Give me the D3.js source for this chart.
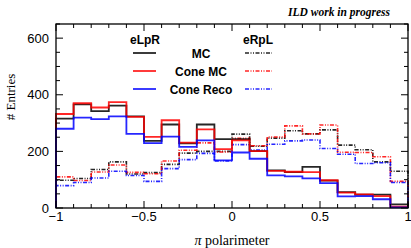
<!DOCTYPE html>
<html><head><meta charset="utf-8">
<script src="https://cdn.jsdelivr.net/npm/d3@7"></script>
<style>body{margin:0;background:#fff}svg{display:block}</style>
</head><body><svg id="c" width="411" height="248"></svg>
<script>
const binEdges = [-1,-0.9,-0.8,-0.7,-0.6,-0.5,-0.4,-0.3,-0.2,-0.1,0,0.1,0.2,0.3,0.4,0.5,0.6,0.7,0.8,0.9,1];
const eLpR_MC      = [316,366,342,362,324,237,295,228,295,243,243,201,133,127,145,97,56,47,47,13];
const eLpR_ConeMC  = [332,370,355,374,322,251,310,231,278,208,239,201,131,128,127,98,54,48,42,5];
const eLpR_ConeReco= [280,319,314,324,262,229,252,216,239,168,196,174,115,112,105,88,41,42,31,2];
const eRpL_MC      = [98,104,136,163,120,125,154,194,200,200,261,218,247,273,262,276,222,206,163,130];
const eRpL_ConeMC  = [110,97,127,152,126,121,166,204,230,198,246,220,251,290,262,293,197,196,181,94];
const eRpL_ConeReco= [79,90,106,130,115,94,139,171,193,166,224,205,225,237,240,210,190,157,160,90];
const yTicks = [0,200,400,600];
const xTicks = [-1,-0.5,0,0.5,1];
const legendLabels = ["MC","Cone MC","Cone Reco"];
const colors = ["#000000","#ff0000","#0000ff"];

const svg = d3.select("#c");
const L=56, R=408, T=24, B=208;
const x = d3.scaleLinear().domain([-1,1]).range([L,R]);
const y = d3.scaleLinear().domain([0,650]).range([B,T]);

function stepPath(vals){
  const pts=[[binEdges[0],0]];
  vals.forEach((v,i)=>{pts.push([binEdges[i],v]);pts.push([binEdges[i+1],v]);});
  pts.push([binEdges[binEdges.length-1],0]);
  return d3.line().x(d=>x(d[0])).y(d=>y(d[1]))(pts);
}
const dash = "4,1.5,1,1.5,1,1.5";
const seriesDashed = [eRpL_MC,eRpL_ConeMC,eRpL_ConeReco];
const seriesSolid = [eLpR_MC,eLpR_ConeMC,eLpR_ConeReco];
seriesDashed.forEach((s,i)=>{
  svg.append("path").attr("d",stepPath(s)).attr("fill","none").attr("stroke",colors[i])
    .attr("stroke-width",1.6).attr("stroke-dasharray",dash).attr("opacity",0.85);
});
seriesSolid.forEach((s,i)=>{
  svg.append("path").attr("d",stepPath(s)).attr("fill","none").attr("stroke",colors[i])
    .attr("stroke-width",1.8).attr("opacity",0.85);
});

// frame
svg.append("rect").attr("x",L).attr("y",T).attr("width",R-L).attr("height",B-T)
  .attr("fill","none").attr("stroke","#000").attr("stroke-width",1.3);

// ticks
const g = svg.append("g").attr("stroke","#000").attr("stroke-width",1);
d3.range(0,651,50).forEach(v=>{
  const len = v%200===0?7:4;
  g.append("line").attr("x1",L).attr("x2",L+len).attr("y1",y(v)).attr("y2",y(v));
  g.append("line").attr("x1",R).attr("x2",R-len).attr("y1",y(v)).attr("y2",y(v));
});
d3.range(-10,11).forEach(k=>{
  const v=k/10; const len = k%5===0?7:4;
  g.append("line").attr("x1",x(v)).attr("x2",x(v)).attr("y1",B).attr("y2",B-len);
  g.append("line").attr("x1",x(v)).attr("x2",x(v)).attr("y1",T).attr("y2",T+len);
});

const sans="Liberation Sans, Arial, Helvetica, sans-serif";
const serif="Liberation Serif, Times New Roman, serif";
yTicks.forEach(v=>{
  svg.append("text").attr("x",49).attr("y",y(v)+4.7).attr("text-anchor","end")
    .attr("font-family",sans).attr("font-size",13).text(v);
});
const fmt = v => v===0?"0":(v<0?"\u2212":"")+String(Math.abs(v));
xTicks.forEach(v=>{
  svg.append("text").attr("x",x(v)).attr("y",221).attr("text-anchor","middle")
    .attr("font-family",sans).attr("font-size",13).text(fmt(v));
});
svg.append("text").attr("x",232).attr("y",245).attr("text-anchor","middle")
  .attr("font-family",serif).attr("font-size",14)
  .html('<tspan font-style="italic">\u03c0</tspan> polarimeter');
svg.append("text").attr("transform","translate(15,97) rotate(-90)").attr("text-anchor","middle")
  .attr("font-family",serif).attr("font-size",13).text("# Entries");
svg.append("text").attr("x",390).attr("y",16).attr("text-anchor","end")
  .attr("font-family",serif).attr("font-size",11.5).attr("font-weight","bold").attr("font-style","italic")
  .text("ILD work in progress");

// legend
svg.append("text").attr("x",145).attr("y",44).attr("text-anchor","middle").attr("font-family",sans)
  .attr("font-weight","bold").attr("font-size",12).text("eLpR");
svg.append("text").attr("x",258).attr("y",44).attr("text-anchor","middle").attr("font-family",sans)
  .attr("font-weight","bold").attr("font-size",12).text("eRpL");
const ly=[53,71,89];
legendLabels.forEach((lab,i)=>{
  svg.append("line").attr("x1",133).attr("x2",156).attr("y1",ly[i]).attr("y2",ly[i])
    .attr("stroke",colors[i]).attr("stroke-width",1.8).attr("opacity",0.85);
  svg.append("line").attr("x1",245).attr("x2",272).attr("y1",ly[i]).attr("y2",ly[i])
    .attr("stroke",colors[i]).attr("stroke-width",1.6).attr("stroke-dasharray",dash).attr("opacity",0.85);
  svg.append("text").attr("x",201).attr("y",ly[i]+4.5).attr("text-anchor","middle").attr("font-family",sans)
    .attr("font-weight","bold").attr("font-size",12).text(lab);
});
</script></body></html>
